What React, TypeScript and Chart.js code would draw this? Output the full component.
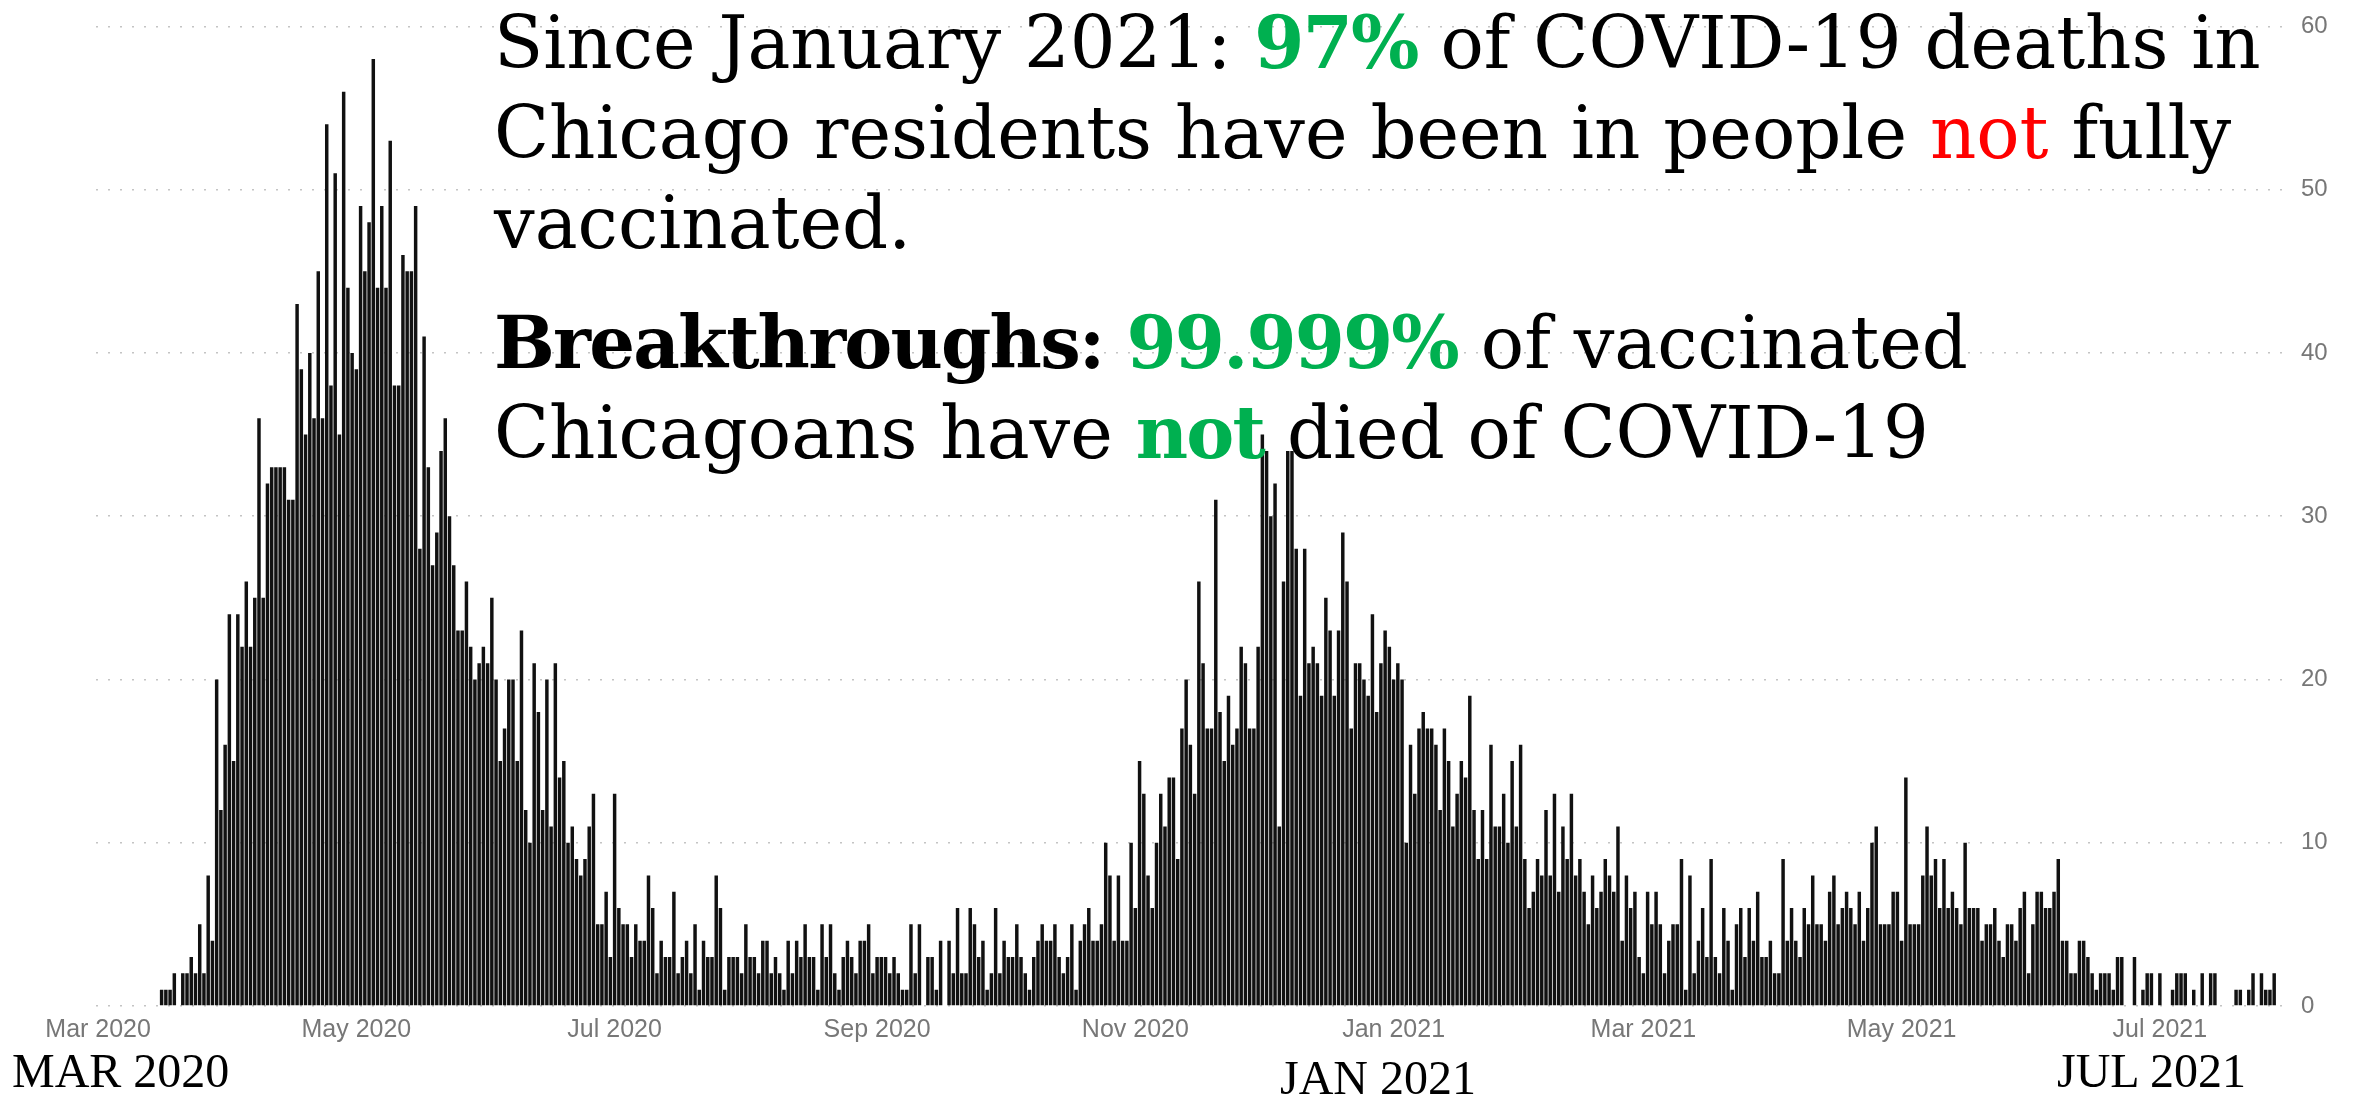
import React, { useEffect, useRef } from "react";
import { Chart, registerables } from "chart.js";

Chart.register(...registerables);

// Daily COVID-19 deaths, Chicago residents (first death 16 Mar 2020)
const mar2020 = [null, null, null, null, null, null, null, null, null, null, null, null, null, null, null,
  1, 1, 1, 2, 0, 2, 2, 3, 2, 5, 2, 8, 4, 20, 12, 16];
const apr2020 = [24, 15, 24, 22, 26, 22, 25, 36, 25, 32, 33, 33, 33, 33, 31, 31, 43, 39, 35, 40, 36, 45, 36, 54, 38, 51, 35, 56, 44, 40];
const may2020 = [39, 49, 45, 48, 58, 44, 49, 44, 53, 38, 38, 46, 45, 45, 49, 28, 41, 33, 27, 29, 34, 36, 30, 27, 23, 23, 26, 22, 20, 21, 22];
const jun2020 = [21, 25, 20, 15, 17, 20, 20, 15, 23, 12, 10, 21, 18, 12, 20, 11, 21, 14, 15, 10, 11, 9, 8, 9, 11, 13, 5, 5, 7, 3];
const jul2020 = [13, 6, 5, 5, 3, 5, 4, 4, 8, 6, 2, 4, 3, 3, 7, 2, 3, 4, 2, 5, 1, 4, 3, 3, 8, 6, 1, 3, 3, 3, 2];
const aug2020 = [5, 3, 3, 2, 4, 4, 2, 3, 2, 1, 4, 2, 4, 3, 5, 3, 3, 1, 5, 3, 5, 2, 1, 3, 4, 3, 2, 4, 4, 5, 2];
const sep2020 = [3, 3, 3, 2, 3, 2, 1, 1, 5, 2, 5, 0, 3, 3, 1, 4, 0, 4, 2, 6, 2, 2, 6, 5, 3, 4, 1, 2, 6, 2];
const oct2020 = [4, 3, 3, 5, 3, 2, 1, 3, 4, 5, 4, 4, 5, 3, 2, 3, 5, 1, 4, 5, 6, 4, 4, 5, 10, 8, 4, 8, 4, 4, 10];
const nov2020 = [6, 15, 13, 8, 6, 10, 13, 11, 14, 14, 9, 17, 20, 16, 13, 26, 21, 17, 17, 31, 18, 15, 19, 16, 17, 22, 21, 17, 17, 22];
const dec2020 = [35, 34, 30, 32, 11, 26, 34, 34, 28, 19, 28, 21, 22, 21, 19, 25, 23, 19, 23, 29, 26, 17, 21, 21, 20, 19, 24, 18, 21, 23, 22];
const jan2021 = [20, 21, 20, 10, 16, 13, 17, 18, 17, 17, 16, 12, 17, 15, 11, 13, 15, 14, 19, 12, 9, 12, 9, 16, 11, 11, 13, 10, 15, 11, 16];
const feb2021 = [9, 6, 7, 9, 8, 12, 8, 13, 7, 11, 9, 13, 8, 9, 7, 5, 8, 6, 7, 9, 8, 7, 11, 4, 8, 6, 7, 3];
const mar2021 = [2, 7, 5, 7, 5, 2, 4, 5, 5, 9, 1, 8, 2, 4, 6, 3, 9, 3, 2, 6, 4, 1, 5, 6, 3, 6, 4, 7, 3, 3, 4];
const apr2021 = [2, 2, 9, 4, 6, 4, 3, 6, 5, 8, 5, 5, 4, 7, 8, 5, 6, 7, 6, 5, 7, 4, 6, 10, 11, 5, 5, 5, 7, 7];
const may2021 = [4, 14, 5, 5, 5, 8, 11, 8, 9, 6, 9, 6, 7, 6, 5, 10, 6, 6, 6, 4, 5, 5, 6, 4, 3, 5, 5, 4, 6, 7, 2];
const jun2021 = [5, 7, 7, 6, 6, 7, 9, 4, 4, 2, 2, 4, 4, 3, 2, 1, 2, 2, 2, 1, 3, 3, 0, 0, 3, 0, 1, 2, 2, 0];
const jul2021 = [2, 0, 0, 1, 2, 2, 2, 0, 1, 0, 2, 0, 2, 2, 0, 0, 0, 0, 1, 1, 0, 1, 2, 0, 2, 1, 1, 2, null, null, null];

const monthLabels = ["Mar 2020", "Apr 2020", "May 2020", "Jun 2020", "Jul 2020", "Aug 2020", "Sep 2020", "Oct 2020",
  "Nov 2020", "Dec 2020", "Jan 2021", "Feb 2021", "Mar 2021", "Apr 2021", "May 2021", "Jun 2021", "Jul 2021"];
const monthValues = [mar2020, apr2020, may2020, jun2020, jul2020, aug2020, sep2020, oct2020, nov2020, dec2020,
  jan2021, feb2021, mar2021, apr2021, may2021, jun2021, jul2021];
const tickLabels = ["Mar 2020", "May 2020", "Jul 2020", "Sep 2020", "Nov 2020", "Jan 2021", "Mar 2021", "May 2021", "Jul 2021"];
const yTicks = [0, 10, 20, 30, 40, 50, 60];

const GREEN = "#00b050";
const RED = "#ff0000";

export default function App() {
  const canvasRef = useRef<HTMLCanvasElement | null>(null);

  useEffect(() => {
    const categories: string[] = [];
    const dayOfMonth: number[] = [];
    const monthOf: string[] = [];
    const values: (number | null)[] = [];
    monthValues.forEach((arr, m) => {
      arr.forEach((v, d) => {
        categories.push(`${monthLabels[m]} ${d + 1}`);
        dayOfMonth.push(d + 1);
        monthOf.push(monthLabels[m]);
        values.push(v);
      });
    });

    const chart = new Chart(canvasRef.current as HTMLCanvasElement, {
      type: "bar",
      data: {
        labels: categories,
        datasets: [
          {
            data: values as any,
            backgroundColor: "#111111",
            borderWidth: 0,
            barPercentage: 1,
            categoryPercentage: 0.82,
          },
        ],
      },
      options: {
        animation: false,
        responsive: false,
        devicePixelRatio: 1,
        layout: { padding: { left: 96, top: 18, right: 0, bottom: 0 } },
        plugins: { legend: { display: false }, tooltip: { enabled: false } },
        scales: {
          x: {
            type: "category",
            grid: { display: false, drawTicks: false },
            border: { display: false },
            ticks: {
              autoSkip: false,
              maxRotation: 0,
              minRotation: 0,
              padding: 9,
              color: "#777777",
              font: { family: "'Liberation Sans', Arial, sans-serif", size: 25 },
              callback: (_v: any, i: number) =>
                dayOfMonth[i] === 1 && tickLabels.includes(monthOf[i]) ? monthOf[i] : "",
            },
            afterFit: (scale: any) => {
              scale.height = 89;
            },
          },
          y: {
            position: "right",
            min: yTicks[0],
            max: yTicks[yTicks.length - 1],
            grid: { color: "#c4c4c4", lineWidth: 1.5, drawTicks: false },
            border: { display: false, dash: [2, 10] },
            ticks: {
              stepSize: 10,
              padding: 12,
              color: "#777777",
              font: { family: "'Liberation Sans', Arial, sans-serif", size: 24 },
            },
            afterFit: (scale: any) => {
              scale.width = 67;
            },
          },
        },
      },
    });
    return () => chart.destroy();
  }, []);

  const big: React.CSSProperties = {
    position: "absolute",
    left: 494,
    top: -2,
    fontFamily: "'DejaVu Serif', serif",
    fontSize: 72,
    lineHeight: "90px",
    color: "#000",
    whiteSpace: "nowrap",
    pointerEvents: "none",
  };
  const tightBold: React.CSSProperties = { letterSpacing: "-1.8px" };
  const bottomLabel = (left: number, top: number): React.CSSProperties => ({
    position: "absolute",
    left,
    top,
    fontFamily: "'Liberation Serif', 'Times New Roman', serif",
    fontSize: 48,
    lineHeight: "48px",
    color: "#000",
    whiteSpace: "nowrap",
  });

  return (
    <div style={{ position: "absolute", left: 0, top: 0, width: 2356, height: 1095, background: "#fff", overflow: "hidden" }}>
      <canvas ref={canvasRef} width={2356} height={1095} style={{ position: "absolute", left: 0, top: 0 }} />
      <div style={big}>
        <div>
          Since January 2021: <b style={{ color: GREEN, ...tightBold }}>97%</b> of COVID-19 deaths in
          <br />
          Chicago residents have been in people <span style={{ color: RED }}>not</span> fully
          <br />
          vaccinated.
        </div>
        <div style={{ marginTop: 30 }}>
          <b style={tightBold}>Breakthroughs:</b> <b style={{ color: GREEN, ...tightBold }}>99.999%</b> of vaccinated
          <br />
          Chicagoans have <b style={{ color: GREEN, ...tightBold }}>not</b> died of COVID-19
        </div>
      </div>
      <div style={bottomLabel(12, 1047)}>MAR 2020</div>
      <div style={bottomLabel(1280, 1054)}>JAN 2021</div>
      <div style={bottomLabel(2057, 1047)}>JUL 2021</div>
    </div>
  );
}
